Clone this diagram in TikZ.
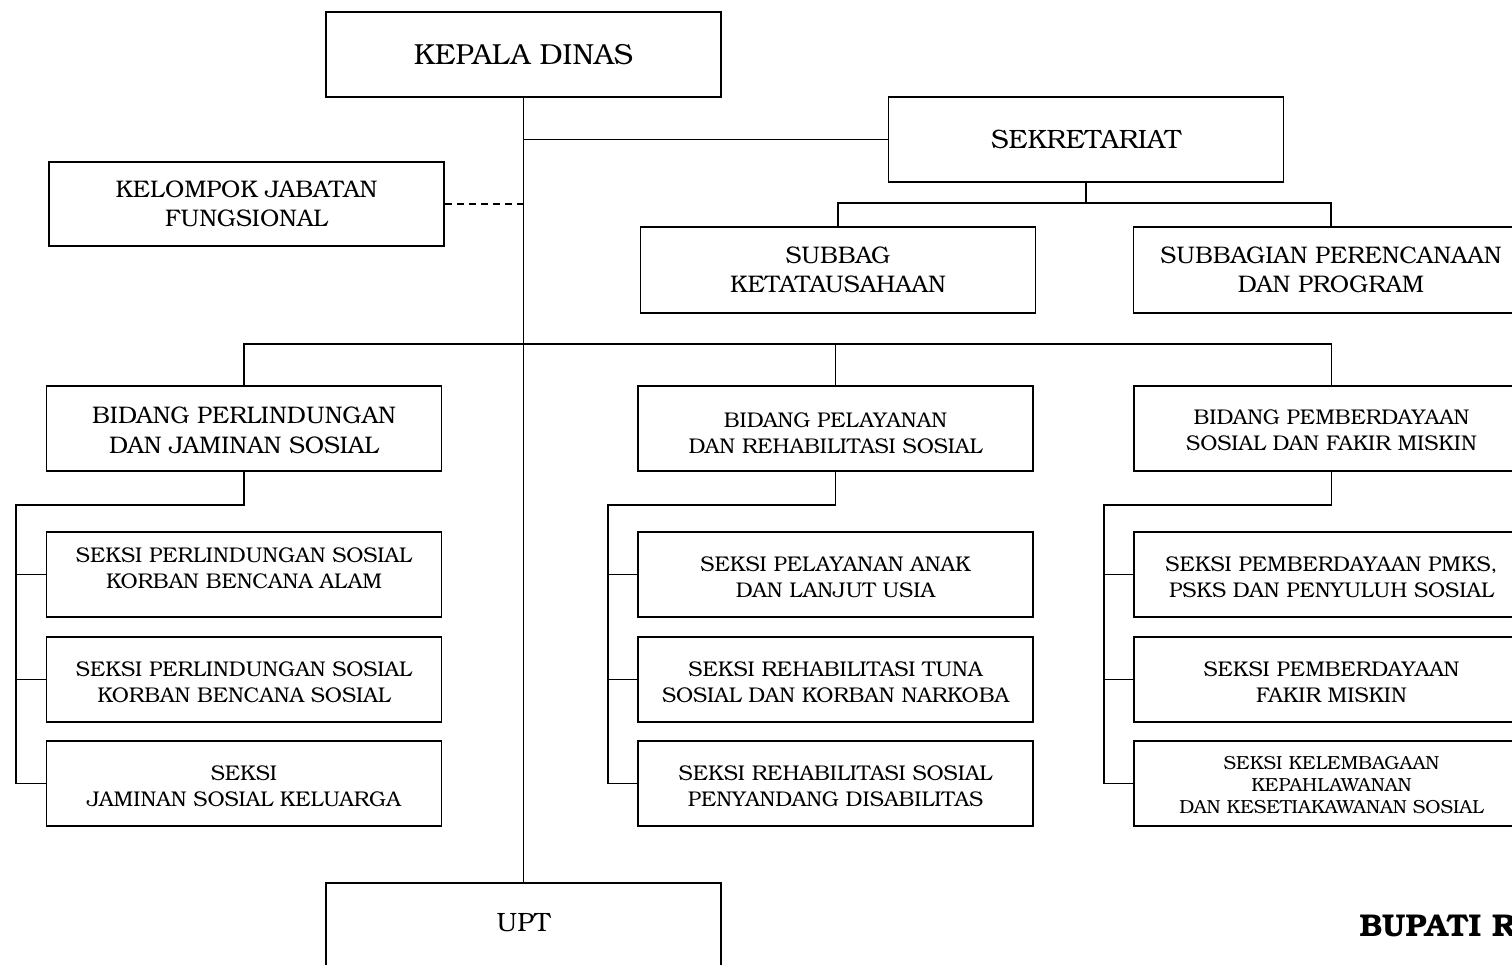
\documentclass[tikz,border=0pt]{standalone}
\usepackage{fontspec}
\setmainfont{texgyrebonum}[Extension=.otf,UprightFont=*-regular,BoldFont=*-bold]
\begin{document}
\begin{tikzpicture}[x=1pt,y=-1pt,
  box/.style={draw, line width=1.8pt, minimum width=395pt, minimum height=85pt, align=center, inner sep=0pt},
  head/.style={font=\fontsize{29}{33}\selectfont},
  big/.style={font=\fontsize{26.5}{30}\selectfont},
  mid/.style={font=\fontsize{24}{29.5}\selectfont},
  sek/.style={font=\fontsize{21.3}{26}\selectfont},
  tiny/.style={font=\fontsize{18.9}{22}\selectfont},
  lower/.style={execute at end node={\rule{0pt}{#1}}},
  lift/.style={execute at end node={\rule[-#1]{0pt}{0pt}}},
  link/.style={line width=1.8pt}]
\useasboundingbox (0,0) rectangle (1512,965);
\clip (0,0) rectangle (1512,965);
\node [box, head] (kepala) at (523.5,54.5) {KEPALA DINAS};
\node [box, big] (sekretariat) at (1086,139.5) {SEKRETARIAT};
\node [box, mid, minimum height=84pt] (kelompok) at (246.5,204) {KELOMPOK JABATAN\\FUNGSIONAL};
\node [box, mid, minimum height=86pt] (subbag) at (838,270) {SUBBAG\\KETATAUSAHAAN};
\node [box, mid, minimum height=86pt] (perencanaan) at (1331,270) {SUBBAGIAN PERENCANAAN\\DAN PROGRAM};
\node [box, mid, lower=50.3pt] (bidlindung) at (244,428.5) {BIDANG PERLINDUNGAN\\DAN JAMINAN SOSIAL};
\node [box, sek, lower=49.9pt] (bidlayan) at (835.5,428.5) {BIDANG PELAYANAN\\DAN REHABILITASI SOSIAL};
\node [box, sek, lower=43.9pt] (bidberdaya) at (1331.5,428.5) {BIDANG PEMBERDAYAAN\\SOSIAL DAN FAKIR MISKIN};
\node [box, sek, lift=12pt] (lindung1) at (244,574.5) {SEKSI PERLINDUNGAN SOSIAL\\KORBAN BENCANA ALAM};
\node [box, sek, lower=46.9pt] (lindung2) at (244,679.5) {SEKSI PERLINDUNGAN SOSIAL\\KORBAN BENCANA SOSIAL};
\node [box, sek, lower=46.9pt] (lindung3) at (244,783.5) {SEKSI\\JAMINAN SOSIAL KELUARGA};
\node [box, sek, lower=46.9pt] (layan1) at (835.5,574.5) {SEKSI PELAYANAN ANAK\\DAN LANJUT USIA};
\node [box, sek, lower=46.9pt] (layan2) at (835.5,679.5) {SEKSI REHABILITASI TUNA\\SOSIAL DAN KORBAN NARKOBA};
\node [box, sek, lower=46.9pt] (layan3) at (835.5,783.5) {SEKSI REHABILITASI SOSIAL\\PENYANDANG DISABILITAS};
\node [box, sek, lower=46.9pt] (berdaya1) at (1331.5,574.5) {SEKSI PEMBERDAYAAN PMKS,\\PSKS DAN PENYULUH SOSIAL};
\node [box, sek, lower=46.9pt] (berdaya2) at (1331.5,679.5) {SEKSI PEMBERDAYAAN\\FAKIR MISKIN};
\node [box, tiny, lower=61.2pt] (berdaya3) at (1331.5,783.5) {SEKSI KELEMBAGAAN\\KEPAHLAWANAN\\DAN KESETIAKAWANAN SOSIAL};
\node [box, big, lift=6pt] (upt) at (523.5,925.5) {UPT};
\node [anchor=west, font=\fontsize{31.5}{35}\selectfont\bfseries] (bupati) at (1356,926) {BUPATI R};
\draw [link] (kepala.south) -- (upt.north);
\draw [link] (kepala.south |- sekretariat.west) -- (sekretariat.west);
\draw [link, dash pattern=on 7pt off 5pt] (kelompok.east) -- (kelompok.east -| kepala.south);
\draw [link] (sekretariat.south) -- ++(0,20) coordinate (sekjoin);
\draw [link] (subbag.north) |- (sekjoin) -| (perencanaan.north);
\coordinate (bidjoin) at (kepala.south |- 0,344);
\draw [link] (bidlindung.north) |- (bidjoin) -| (bidberdaya.north);
\draw [link] (bidjoin -| bidlayan.north) -- (bidlayan.north);
\draw [link] (bidlindung.south) -- ++(0,33) -| ([xshift=-30pt]lindung3.west) -- (lindung3.west);
\draw [link] ([xshift=-30pt]lindung1.west) -- (lindung1.west);
\draw [link] ([xshift=-30pt]lindung2.west) -- (lindung2.west);
\draw [link] (bidlayan.south) -- ++(0,33) -| ([xshift=-29pt]layan3.west) -- (layan3.west);
\draw [link] ([xshift=-29pt]layan1.west) -- (layan1.west);
\draw [link] ([xshift=-29pt]layan2.west) -- (layan2.west);
\draw [link] (bidberdaya.south) -- ++(0,33) -| ([xshift=-29pt]berdaya3.west) -- (berdaya3.west);
\draw [link] ([xshift=-29pt]berdaya1.west) -- (berdaya1.west);
\draw [link] ([xshift=-29pt]berdaya2.west) -- (berdaya2.west);
\end{tikzpicture}
\end{document}
